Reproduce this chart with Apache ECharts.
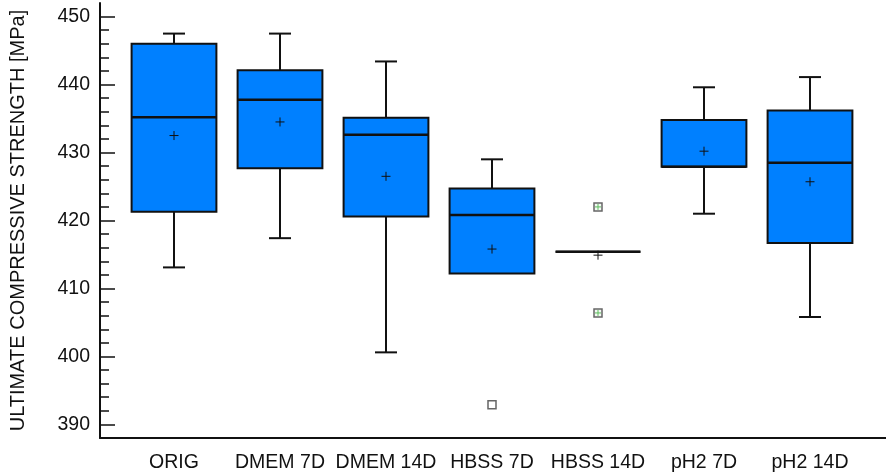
<!DOCTYPE html>
<html>
<head>
<meta charset="utf-8">
<script src="https://cdn.jsdelivr.net/npm/echarts@6/dist/echarts.min.js"></script>
<style>html,body{margin:0;padding:0;background:#fff}#c{width:886px;height:473px}</style>
</head>
<body>
<div id="c"></div>
<script>
const categories = ['ORIG', 'DMEM 7D', 'DMEM 14D', 'HBSS 7D', 'HBSS 14D', 'pH2 7D', 'pH2 14D'];
const lowWhisker = [413.1, 417.4, 400.6, 412.2, 415.4, 421.0, 405.8];
const q1 = [421.3, 427.7, 420.6, 412.2, 415.4, 427.9, 416.7];
const median = [435.2, 437.75, 432.6, 420.8, 415.4, 427.9, 428.5];
const q3 = [446.0, 442.1, 435.1, 424.7, 415.4, 434.8, 436.2];
const highWhisker = [447.5, 447.5, 443.4, 429.0, 415.4, 439.6, 441.1];
const mean = [432.5, 434.5, 426.5, 415.8, 414.9, 430.2, 425.7];
// outliers: [categoryIndex, value]
const outliersPlain = [[3, 392.9]];
const outliersMarked = [[4, 422.0], [4, 406.4]];
const yMajorTicks = [390, 400, 410, 420, 430, 440, 450];
const yMinorTicks = [392, 394, 396, 398, 402, 404, 406, 408, 412, 414, 416, 418, 422, 424, 426, 428, 432, 434, 436, 438, 442, 444, 446, 448];
const yMin = 388, yMax = 452;

const FONT = "'Liberation Sans Narrow', 'Arial Narrow', 'Liberation Sans', Arial, sans-serif";
const boxData = categories.map((c, i) => [i, lowWhisker[i], q1[i], median[i], q3[i], highWhisker[i], mean[i]]);

function renderBox(params, api) {
  const x = api.value(0);
  const pLow = api.coord([x, api.value(1)]);
  const pQ1 = api.coord([x, api.value(2)]);
  const pMed = api.coord([x, api.value(3)]);
  const pQ3 = api.coord([x, api.value(4)]);
  const pHigh = api.coord([x, api.value(5)]);
  const pMean = api.coord([x, api.value(6)]);
  const bw = api.size([1, 0])[0] * 0.8;
  const cx = pMed[0];
  const capW = 22;
  const line = {stroke: '#111', lineWidth: 2};
  const ch = [];
  if (api.value(5) > api.value(4)) {
    ch.push({type: 'line', shape: {x1: cx, y1: pQ3[1], x2: cx, y2: pHigh[1]}, style: line});
    ch.push({type: 'line', shape: {x1: cx - capW / 2, y1: pHigh[1], x2: cx + capW / 2, y2: pHigh[1]}, style: line});
  }
  if (api.value(1) < api.value(2)) {
    ch.push({type: 'line', shape: {x1: cx, y1: pQ1[1], x2: cx, y2: pLow[1]}, style: line});
    ch.push({type: 'line', shape: {x1: cx - capW / 2, y1: pLow[1], x2: cx + capW / 2, y2: pLow[1]}, style: line});
  }
  ch.push({type: 'rect', shape: {x: cx - bw / 2, y: pQ3[1], width: bw, height: pQ1[1] - pQ3[1]},
    style: {fill: '#0080ff', stroke: '#111', lineWidth: 2}});
  ch.push({type: 'line', shape: {x1: cx - bw / 2, y1: pMed[1], x2: cx + bw / 2, y2: pMed[1]}, style: {stroke: '#111', lineWidth: 2.5}});
  const m = 4.5;
  ch.push({type: 'line', shape: {x1: pMean[0] - m, y1: pMean[1], x2: pMean[0] + m, y2: pMean[1]}, style: {stroke: '#111', lineWidth: 1}});
  ch.push({type: 'line', shape: {x1: pMean[0], y1: pMean[1] - m, x2: pMean[0], y2: pMean[1] + m}, style: {stroke: '#111', lineWidth: 1}});
  return {type: 'group', children: ch};
}

function renderOutlier(marked) {
  return function (params, api) {
    const p = api.coord([api.value(0), api.value(1)]);
    const s = 8;
    const ch = [{type: 'rect', shape: {x: p[0] - s / 2, y: p[1] - s / 2, width: s, height: s},
      style: {fill: marked ? '#f4f8f4' : '#fff', stroke: '#666', lineWidth: 1.5}}];
    if (marked) {
      ch.push({type: 'line', shape: {x1: p[0] - 3, y1: p[1], x2: p[0] + 3, y2: p[1]}, style: {stroke: '#5fbf5f', lineWidth: 1}});
      ch.push({type: 'line', shape: {x1: p[0], y1: p[1] - 3, x2: p[0], y2: p[1] + 3}, style: {stroke: '#5fbf5f', lineWidth: 1}});
    }
    return {type: 'group', children: ch};
  };
}

const chart = echarts.init(document.getElementById('c'), null, {renderer: 'canvas'});
chart.setOption({
  animation: false,
  backgroundColor: '#fff',
  grid: [
    {left: 100, right: 0, top: 3, bottom: 35, containLabel: false, outerBoundsMode: 'none'},
    {left: 121, right: 23, top: 3, bottom: 35, containLabel: false, outerBoundsMode: 'none'}
  ],
  xAxis: [
    {gridIndex: 0, type: 'value', min: 0, max: 1, axisLine: {show: true, onZero: false, lineStyle: {color: '#111', width: 2}},
      axisTick: {show: false}, axisLabel: {show: false}, splitLine: {show: false}},
    {gridIndex: 1, type: 'category', data: categories, boundaryGap: true,
      axisLine: {show: false}, axisTick: {show: false}, splitLine: {show: false},
      axisLabel: {show: true, interval: 0, margin: 15, color: '#111', fontSize: 19.5, fontFamily: FONT}}
  ],
  yAxis: [
    {gridIndex: 0, type: 'value', min: yMin, max: yMax, position: 'left',
      name: 'ULTIMATE COMPRESSIVE STRENGTH [MPa]', nameLocation: 'middle', nameGap: 72,
      nameTextStyle: {color: '#111', fontSize: 20, fontFamily: FONT},
      axisLine: {show: true, onZero: false, lineStyle: {color: '#111', width: 2}},
      axisTick: {show: true, inside: true, length: 15, customValues: yMajorTicks, lineStyle: {color: '#111', width: 1.5}},
      axisLabel: {show: true, customValues: yMajorTicks, margin: 10, color: '#111', fontSize: 19.5, fontFamily: FONT},
      splitLine: {show: false}},
    {gridIndex: 0, type: 'value', min: yMin, max: yMax, position: 'left',
      axisLine: {show: false},
      axisTick: {show: true, inside: true, length: 9, customValues: yMinorTicks, lineStyle: {color: '#111', width: 1.5}},
      axisLabel: {show: false}, splitLine: {show: false}},
    {gridIndex: 1, type: 'value', min: yMin, max: yMax, show: false, splitLine: {show: false}}
  ],
  series: [
    {type: 'custom', xAxisIndex: 1, yAxisIndex: 2, data: boxData, renderItem: renderBox, encode: {x: 0, y: [1, 2, 3, 4, 5, 6]}},
    {type: 'custom', xAxisIndex: 1, yAxisIndex: 2, data: outliersPlain, renderItem: renderOutlier(false), encode: {x: 0, y: 1}},
    {type: 'custom', xAxisIndex: 1, yAxisIndex: 2, data: outliersMarked, renderItem: renderOutlier(true), encode: {x: 0, y: 1}}
  ]
});
</script>
</body>
</html>
